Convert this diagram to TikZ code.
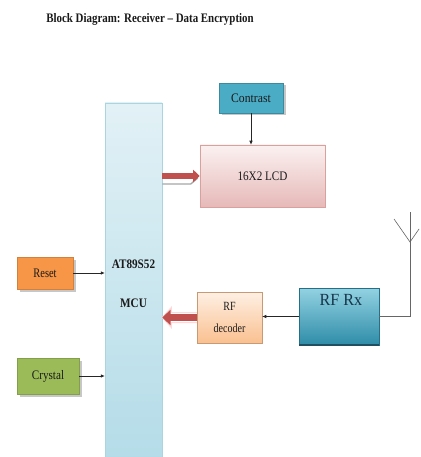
\documentclass[tikz,border=0pt]{standalone}
\usepackage{fontspec}
\setmainfont{Liberation Serif}
\usetikzlibrary{arrows.meta,shadows,calc}
\newcommand\sqz[2][0.86]{\scalebox{#1}[1]{#2}}
\definecolor{txtc}{HTML}{1A1A1A}
\definecolor{mcutop}{HTML}{E2F1F6}
\definecolor{mcubot}{HTML}{B4DCE8}
\definecolor{mcubd}{HTML}{A9D4E0}
\definecolor{contr}{HTML}{4BACC6}
\definecolor{lcdtop}{HTML}{FBF1F1}
\definecolor{lcdbot}{HTML}{E6B9B8}
\definecolor{lcdbd}{HTML}{D9A09E}
\definecolor{rst}{HTML}{F79646}
\definecolor{cry}{HTML}{9BBB59}
\definecolor{dectop}{HTML}{FEF0E4}
\definecolor{decbot}{HTML}{FAC090}
\definecolor{rxtop}{HTML}{93D2E2}
\definecolor{rxbot}{HTML}{2E8CA8}
\definecolor{rxedge}{HTML}{1F4F60}
\definecolor{rxtxt}{HTML}{17364A}
\definecolor{bigred}{HTML}{C0504D}
\begin{document}
\begin{tikzpicture}[x=1pt,y=-1pt,
  txt/.style={text=txtc, font=\fontsize{13}{14}\selectfont, inner sep=0pt},
  blk/.style={draw=#1, line width=0.5pt, inner sep=0pt},
  shad/.style={drop shadow={shadow xshift=2.5pt, shadow yshift=-2.5pt, fill=black!22, opacity=1}},
  conn/.style={draw=black!85, line width=0.6pt, -{Latex[length=4pt,width=3.5pt]}},
  bigarrow/.style={draw=bigred, line width=#1, -{Triangle[width=2.2*#1,length=1.2*#1]}},
]
\useasboundingbox (0,0) rectangle (420,457);
\fill[white] (0,0) rectangle (420,457);

% title
\node[txt, font=\bfseries\fontsize{13}{14}\selectfont] (title) at (150,19) {\sqz[0.84]{Block Diagram: Receiver -- Data Encryption}};

% MCU
\node[blk=mcubd, top color=mcutop, bottom color=mcubot, minimum width=57pt, minimum height=356pt] (mcu) at (133.5,281) {};
\node[txt, font=\bfseries\fontsize{13}{14}\selectfont] (mcua) at (133.5,264) {\sqz{AT89S52}};
\node[txt, font=\bfseries\fontsize{13}{14}\selectfont] (mcub) at (133.5,303) {\sqz{MCU}};

% Contrast
\node[blk=contr!80!black, fill=contr, shad, minimum width=64pt, minimum height=30pt, txt] (contrast) at (251,98) {\sqz[0.9]{Contrast}};

% LCD
\node[blk=lcdbd, top color=lcdtop, bottom color=lcdbot, minimum width=125pt, minimum height=62pt, txt] (lcd) at (262.5,176) {\sqz{16X2 LCD}};

% Reset, Crystal
\node[blk=rst!85!black, fill=rst, shad, minimum width=56pt, minimum height=32pt, txt] (reset) at (45,273) {\sqz[0.8]{Reset}};
\node[blk=cry!85!black, fill=cry, shad, minimum width=62pt, minimum height=36pt, txt] (crystal) at (48,376) {\sqz{Crystal}};

% RF decoder
\node[blk=decbot!80!black, top color=dectop, bottom color=decbot, minimum width=65pt, minimum height=51pt, txt, align=center, font=\fontsize{12.5}{22}\selectfont] (dec) at (229.5,317.5) {\sqz[0.8]{RF}\\\sqz[0.8]{decoder}};

% RF Rx
\node[blk=rxbot!80!black, top color=rxtop, bottom color=rxbot, minimum width=80pt, minimum height=57pt] (rx) at (339,316.5) {};
\node[txt, text=rxtxt, font=\fontsize{17}{18}\selectfont] (rxt) at (341,300) {\sqz[0.95]{RF Rx}};
\draw[rxedge, line width=2pt] (rx.south west) -- (rx.south east);

% antenna
\coordinate (acorner) at (410,316.5);
\coordinate (atop) at (410,212);
\coordinate (avtx) at (410,242);
\coordinate (aleft) at (394,219);
\coordinate (aright) at (419,229);
\draw[black!60, line width=0.6pt] (rx.east) -- (acorner) -- (atop);
\draw[black!60, line width=0.6pt] (aleft) -- (avtx) -- (aright);

% connectors
\draw[conn] (contrast.south) -- (contrast.south |- lcd.north);
\draw[conn] (reset.east) -- (reset.east -| mcu.west);
\draw[conn] (crystal.east) -- (crystal.east -| mcu.west);
\draw[conn] (rx.west) -- (rx.west -| dec.east);

% big arrows
\draw[black!35, line width=1.3pt] ($(mcu.east |- lcd.west)+(0,8)$) -- ($(lcd.west)+(-9,8)$) -- ($(lcd.west)+(-2,2)$);
\draw[bigarrow=5.5pt] (mcu.east |- lcd.west) -- (lcd.west);
\draw[red!15, line width=1pt, line join=miter] ($(dec.west)+(0,-5)$) -- ($(dec.west -| mcu.east)+(9,-5)$) -- ($(dec.west -| mcu.east)+(9,-10)$) -- (dec.west -| mcu.east) -- ($(dec.west -| mcu.east)+(9,10)$) -- ($(dec.west -| mcu.east)+(9,5)$) -- ($(dec.west)+(0,5)$);
\draw[bigarrow=7pt] (dec.west) -- (dec.west -| mcu.east);
\end{tikzpicture}
\end{document}
